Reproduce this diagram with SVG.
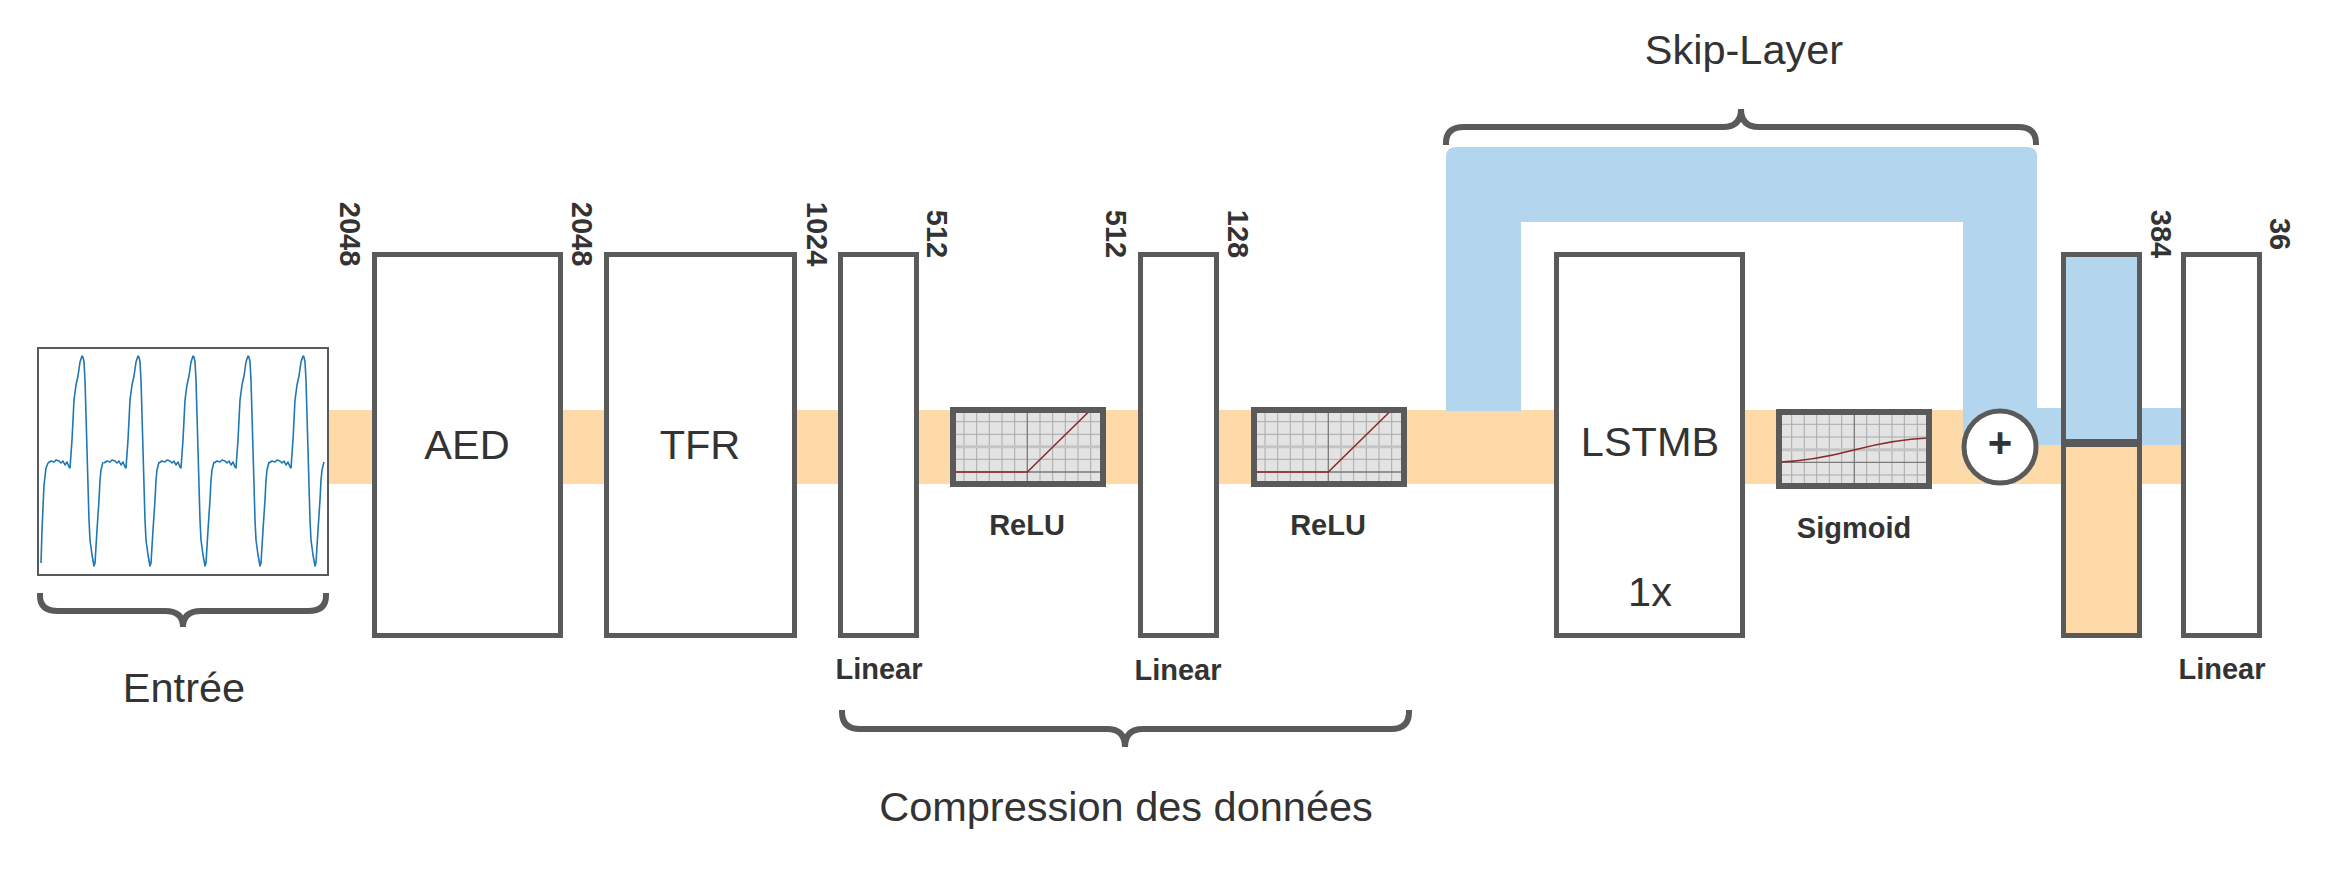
<svg xmlns="http://www.w3.org/2000/svg" width="2331" height="876" viewBox="0 0 2331 876">
<style>
.box{fill:#fff;stroke:#5a5a5a;stroke-width:5}
.actbg{fill:#e3e3e3}
.actb{fill:none;stroke:#5a5a5a;stroke-width:6}
.grid{stroke:#a9a9a9;stroke-width:1}
.axis{stroke:#7a7a7a;stroke-width:1.3}
.midl{stroke:#c4c4c4;stroke-width:3}
.fn{fill:none;stroke:#8b2c2c;stroke-width:1.6}
.big{font-family:"Liberation Sans",Arial,sans-serif;font-size:41.5px;fill:#333;text-anchor:middle}
.lbl{font-family:"Liberation Sans",Arial,sans-serif;font-size:29px;font-weight:bold;fill:#333;text-anchor:middle}
.dim{font-family:"Liberation Sans",Arial,sans-serif;font-size:29px;font-weight:bold;fill:#333;text-anchor:middle}
.brace{fill:none;stroke:#5a5a5a;stroke-width:6}
.sig{fill:none;stroke:#1f77b4;stroke-width:1.6;stroke-linejoin:round}
</style>
<defs>
<path id="beat" d="M-34,463 L-31,461 L-28,462 L-26,460 L-23,461 L-21,463 L-19,461 L-17,465 L-15,462 L-13,467 L-12,468 L-10,440 L-8,400 L-6,385 L-4,376 L-2,362 L0,356 L1,357 L2,362 L3,380 L5,450 L7,520 L8,540 L10,555 L12,566 L13,563 L15,530 L17,500 L18,480 L19,470 L21,462"/>
<g id="relugrid">
<path class="grid" d="M14,6V74M26.7,6V74M39.3,6V74M52,6V74M64.7,6V74M90,6V74M102.7,6V74M115.3,6V74M128,6V74M140.7,6V74M6,14.7H150M6,27.3H150M6,52.3H150"/>
<path class="midl" d="M6,39.7H150"/>
<path class="axis" d="M77.3,6V74M6,65H150"/>
</g>
</defs>
<rect width="2331" height="876" fill="#fff"/>

<g id="connectors">
<rect x="329" y="410" width="1852" height="74" fill="#fddaa7"/>
<path d="M1446,411 V157 Q1446,147 1456,147 H2027 Q2037,147 2037,157 V408 H2181 V445 H1963 V222 H1521 V411 Z" fill="#b3d6ee"/>
</g>

<g id="input">
<rect x="38" y="348" width="290" height="227" fill="#fff" stroke="#5a5a5a" stroke-width="2"/>
<path class="sig" d="M41,563 L42,530 L44,485 L46,468 L48,463"/>
<use href="#beat" class="sig" transform="translate(82,0)"/>
<use href="#beat" class="sig" transform="translate(138,0)"/>
<use href="#beat" class="sig" transform="translate(193,0)"/>
<use href="#beat" class="sig" transform="translate(248,0)"/>
<use href="#beat" class="sig" transform="translate(303,0)"/>
<path class="brace" d="M40,593 V596 Q40,611 58,611 H165 Q183,611 183,627 Q183,611 201,611 H308 Q326,611 326,596 V593"/>
<text class="big" x="184" y="702">Entrée</text>
</g>

<g id="aed">
<rect class="box" x="374.5" y="254.5" width="186" height="381"/>
<text class="big" x="467" y="459">AED</text>
<text class="dim" transform="translate(340,234) rotate(90)">2048</text>
</g>

<g id="tfr">
<rect class="box" x="606.5" y="254.5" width="188" height="381"/>
<text class="big" x="700" y="459">TFR</text>
<text class="dim" transform="translate(572,234) rotate(90)">2048</text>
</g>

<g id="linear1">
<rect class="box" x="840.5" y="254.5" width="76" height="381"/>
<text class="dim" transform="translate(807,234) rotate(90)">1024</text>
<text class="lbl" x="879" y="679">Linear</text>
</g>

<g id="relu1" transform="translate(950,407)">
<rect class="actbg" x="3" y="3" width="150" height="74"/>
<use href="#relugrid"/>
<path class="fn" d="M4,65 H77.3 L140.5,3"/>
<rect class="actb" x="3" y="3" width="150" height="74"/>
<text class="lbl" x="77" y="128">ReLU</text>
</g>

<g id="linear2">
<rect class="box" x="1140.5" y="254.5" width="76" height="381"/>
<text class="dim" transform="translate(927,234) rotate(90)">512</text>
<text class="dim" transform="translate(1106,234) rotate(90)">512</text>
<text class="lbl" x="1178" y="680">Linear</text>
</g>

<g id="relu2" transform="translate(1251,407)">
<rect class="actbg" x="3" y="3" width="150" height="74"/>
<use href="#relugrid"/>
<path class="fn" d="M4,65 H77.3 L140.5,3"/>
<rect class="actb" x="3" y="3" width="150" height="74"/>
<text class="lbl" x="77" y="128">ReLU</text>
<text class="dim" transform="translate(-23,-173) rotate(90)">128</text>
</g>

<g id="lstmb">
<rect class="box" x="1556.5" y="254.5" width="186" height="381"/>
<text class="big" x="1650" y="456">LSTMB</text>
<text class="big" x="1650" y="606">1x</text>
</g>

<g id="sigmoid" transform="translate(1776,409)">
<rect class="actbg" x="3" y="3" width="150" height="74"/>
<path class="grid" d="M15.7,6V74M28.3,6V74M40.7,6V74M53.3,6V74M65.7,6V74M90.7,6V74M103.3,6V74M116,6V74M128.3,6V74M141.3,6V74M6,15.3H150M6,28H150M6,66H150"/>
<path class="midl" d="M6,40.7H150"/>
<path class="axis" d="M78.3,6V74M6,53.3H150"/>
<path class="fn" d="M4,53 C30,52 55,47 78,41 C101,35 125,30 152,29"/>
<rect class="actb" x="3" y="3" width="150" height="74"/>
<text class="lbl" x="78" y="129">Sigmoid</text>
</g>

<g id="add">
<circle cx="2000" cy="447" r="36" fill="#fff" stroke="#5a5a5a" stroke-width="5"/>
<text x="2000" y="457" style="font-family:'Liberation Sans',Arial,sans-serif;font-size:42px;font-weight:bold;fill:#333;text-anchor:middle">+</text>
</g>

<g id="concat">
<rect x="2063.5" y="254.5" width="76" height="189" fill="#b3d6ee"/>
<rect x="2063.5" y="443" width="76" height="192.5" fill="#fddaa7"/>
<rect x="2063.5" y="254.5" width="76" height="381" fill="none" stroke="#5a5a5a" stroke-width="5"/>
<line x1="2061" y1="443" x2="2142" y2="443" stroke="#5a5a5a" stroke-width="8"/>
<text class="dim" transform="translate(2151,234) rotate(90)">384</text>
</g>

<g id="linear3">
<rect class="box" x="2183.5" y="254.5" width="76" height="381"/>
<text class="dim" transform="translate(2270,234) rotate(90)">36</text>
<text class="lbl" x="2222" y="679">Linear</text>
</g>

<g id="compression">
<path class="brace" d="M842,710 V712 Q842,729 860,729 H1107 Q1125,729 1125,747 Q1125,729 1143,729 H1391 Q1409,729 1409,712 V710"/>
<text class="big" x="1126" y="821">Compression des données</text>
</g>

<g id="skip">
<path class="brace" d="M1446,145 V143 Q1446,127 1464,127 H1723 Q1741,127 1741,109 Q1741,127 1759,127 H2018 Q2036,127 2036,143 V145"/>
<text class="big" x="1744" y="64">Skip-Layer</text>
</g>
</svg>
